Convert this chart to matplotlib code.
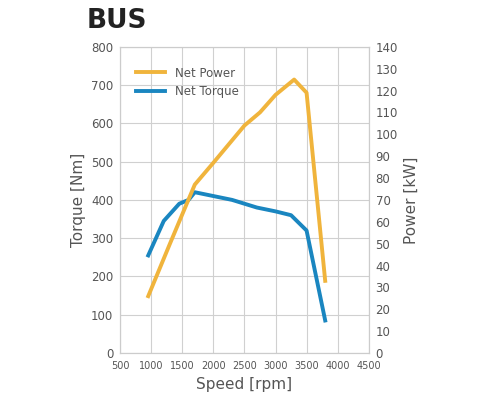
import matplotlib
matplotlib.use("Agg")
import matplotlib.pyplot as plt

speed_t = [950, 1200, 1450, 1600, 1700, 2000, 2300, 2700, 3000, 3250, 3500, 3800]
torque = [255, 345, 390, 400, 420, 410, 400, 380, 370, 360, 320, 85]
speed_p = [950, 1300, 1700, 2000, 2500, 2750, 3000, 3300, 3500, 3800]
power = [26, 50, 77, 87, 104, 110, 118, 125, 119, 33]

ORANGE = "#F0B43C"
BLUE = "#1A86C0"
GREY = "#555555"

fig = plt.figure(figsize=(4.87, 4.03), dpi=100)
ax = fig.add_axes([0.247, 0.124, 0.51, 0.76])
ax2 = ax.twinx()

ax.plot(speed_t, torque, color=BLUE, lw=2.8, label="Net Torque", zorder=3)
ax2.plot(speed_p, power, color=ORANGE, lw=2.8, label="Net Power", zorder=3)

ax.set_xlim(500, 4500)
ax.set_ylim(0, 800)
ax2.set_ylim(0, 140)
ax.set_xticks(range(500, 4501, 500))
ax.set_yticks(range(0, 801, 100))
ax2.set_yticks(range(0, 141, 10))
ax.grid(True, color="#d0d0d0", lw=0.8)
ax.set_axisbelow(True)
for a in (ax, ax2):
    a.tick_params(labelsize=8.5, colors=GREY, length=0, pad=5)
    for s in a.spines.values():
        s.set_color("#cccccc")
ax.tick_params(axis="x", labelsize=7, pad=6)

ax.set_xlabel("Speed [rpm]", fontsize=11, color=GREY)
ax.set_ylabel("Torque [Nm]", fontsize=11, color=GREY)
ax2.set_ylabel("Power [kW]", fontsize=11, color=GREY)

h1, l1 = ax2.get_legend_handles_labels()
h2, l2 = ax.get_legend_handles_labels()
ax.legend(h1 + h2, l1 + l2, loc="upper left", bbox_to_anchor=(0.02, 0.97),
          frameon=False, fontsize=8.5, labelcolor=GREY, handlelength=2.5)

fig.text(0.178, 0.93, "BUS", fontsize=19, fontweight="bold", color="#222222")

fig.savefig("out.png", dpi=100)
